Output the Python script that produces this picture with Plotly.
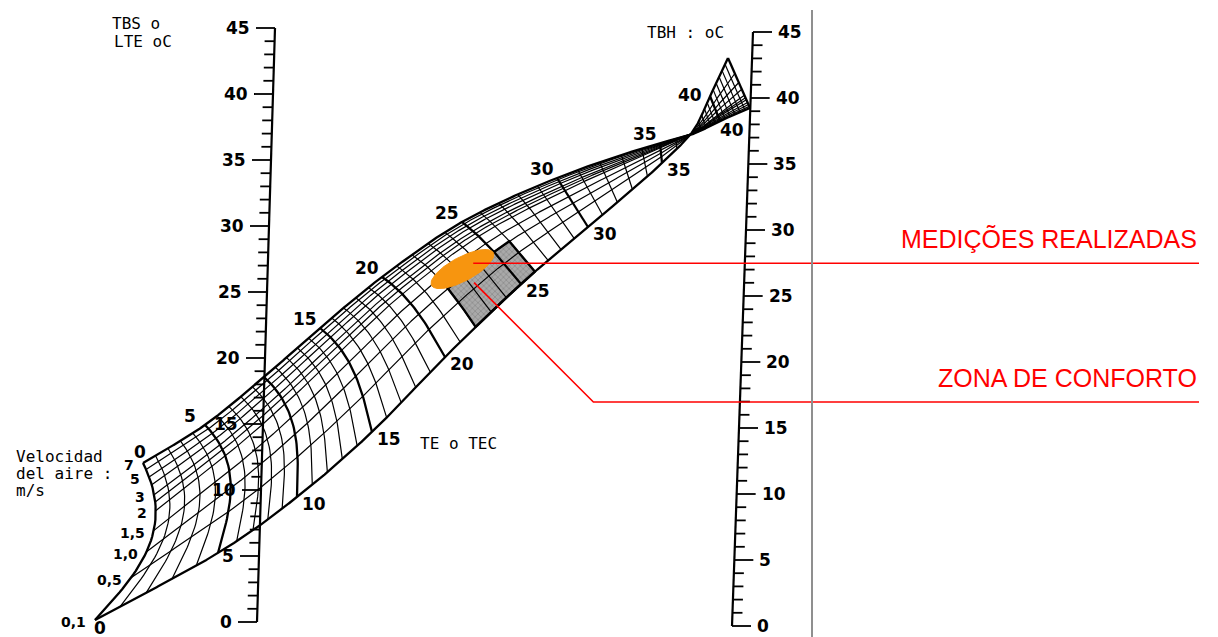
import numpy as np
import plotly.graph_objects as go

# ---------------- chart values ----------------
# effective temperature (TE / TEC, degC) lines of the nomogram
te_steps_main = list(range(0, 37))
te_steps_hot = [37.0, 37.5, 38.0, 38.5, 39.0, 39.5, 40.0, 40.5, 41.0, 41.5, 42.0, 42.5, 43.0]
te_bold = [0, 5, 10, 15, 20, 25, 30, 35, 40, 43]
te_labels_top = [0, 5, 15, 20, 25, 30, 35, 40]
te_labels_bottom = [0, 10, 15, 20, 25, 30, 35, 40]

# air speed curves (m/s)
air_speeds = [0.1, 0.5, 1.0, 1.5, 2.0, 2.5, 3.0, 4.0, 5.0, 6.0, 7.0]
speed_marks = [7, 5, 3, 2, 1.5, 1.0, 0.5, 0.1]
speed_mark_text = ["7", "5", "3", "2", "1,5", "1,0", "0,5", "0,1"]

# dry bulb (left) and wet bulb (right) scales, degC
dry_bulb_ticks = list(range(0, 46))
dry_bulb_labels = [0, 5, 10, 15, 20, 25, 30, 35, 40, 45]
wet_bulb_ticks = list(range(0, 46))
wet_bulb_labels = [0, 5, 10, 15, 20, 25, 30, 35, 40, 45]

# comfort zone and measured conditions
comfort_te = [22, 26]
comfort_speed = [0.1, 1.0]
measured_te = 23.2
measured_speed = 1.2

# ---------------- nomogram geometry (drawing frame, px) ----------------
ANCHOR_TE = np.array([0, 5, 10, 15, 20, 25, 30, 35, 37, 40, 43], float)
STILL_X = np.array([95, 218, 297, 372, 445, 521, 588, 662, 690, 710, 728], float)
STILL_Y = np.array([620, 553, 497, 432, 357, 284, 227, 163, 135, 96, 58], float)
FAST_X = np.array([143, 205, 264, 320, 382, 462, 557, 660, 690, 720, 750], float)
FAST_Y = np.array([463, 425, 377, 328, 277, 222, 178, 143, 135, 121, 108], float)

# relative position of each air speed across the band (0 = 0.1 m/s edge, 1 = 7 m/s edge)
SPEED_SCALE_V = np.array([0.1, 0.5, 1.0, 1.5, 2.0, 3.0, 5.0, 7.0])
SPEED_SCALE_POS = np.array([0.0, 0.31, 0.49, 0.625, 0.745, 0.835, 0.93, 1.0])

LEFT_AXIS = ((257, 622), (275, 28))     # positions of 0 and 45 on the TBS scale
RIGHT_AXIS = ((732, 626), (753, 32))    # positions of 0 and 45 on the TBH scale

INK = "black"
NUM_FONT = dict(family="DejaVu Sans", size=17, color=INK, weight="bold")
SPEED_FONT = dict(family="DejaVu Sans", size=14, color=INK, weight="bold")
SMALL_FONT = dict(family="DejaVu Sans Mono", size=16, color=INK)


def hermite(ts, vals, t):
    ts = np.asarray(ts, float)
    vals = np.asarray(vals, float)
    m = np.gradient(vals, ts)
    t = np.atleast_1d(np.asarray(t, float))
    i = np.clip(np.searchsorted(ts, t, side="right") - 1, 0, len(ts) - 2)
    h = ts[i + 1] - ts[i]
    u = (t - ts[i]) / h
    h00 = 2 * u**3 - 3 * u**2 + 1
    h10 = u**3 - 2 * u**2 + u
    h01 = -2 * u**3 + 3 * u**2
    h11 = u**3 - u**2
    return h00 * vals[i] + h10 * h * m[i] + h01 * vals[i + 1] + h11 * h * m[i + 1]


def speed_pos(v):
    return np.interp(np.log(np.asarray(v, float)), np.log(SPEED_SCALE_V), SPEED_SCALE_POS)


def edge(t, which):
    if which == "still":
        return hermite(ANCHOR_TE, STILL_X, t), hermite(ANCHOR_TE, STILL_Y, t)
    return hermite(ANCHOR_TE, FAST_X, t), hermite(ANCHOR_TE, FAST_Y, t)


def node(t, s):
    t = np.atleast_1d(np.asarray(t, float))
    s = np.asarray(s, float)
    lx, ly = edge(t, "still")
    ux, uy = edge(t, "fast")
    cx, cy = ux - lx, uy - ly
    ln = np.hypot(cx, cy)
    safe = np.where(ln < 1e-6, 1.0, ln)
    nx, ny = cy / safe, -cx / safe
    mx1, my1 = (lx + ux) / 2, (ly + uy) / 2
    lx2, ly2 = edge(t + 0.05, "still")
    ux2, uy2 = edge(t + 0.05, "fast")
    dx, dy = (lx2 + ux2) / 2 - mx1, (ly2 + uy2) / 2 - my1
    sign = np.sign(nx * dx + ny * dy)
    k = 0.32 * np.clip(1 - t / 30.0, 0, None) * ln * sign
    off = 3 * s * (1 - s) ** 2 * 0.5 * k + 3 * s**2 * (1 - s) * k
    return lx + s * cx + off * nx, ly + s * cy + off * ny


def scale_point(axis, val):
    (x0, y0), (x1, y1) = axis
    f = np.asarray(val, float) / 45.0
    return x0 + (x1 - x0) * f, y0 + (y1 - y0) * f


def seg_join(segments):
    xs, ys = [], []
    for sx, sy in segments:
        xs += list(np.ravel(sx)) + [None]
        ys += list(np.ravel(sy)) + [None]
    return xs, ys


fig = go.Figure()

# ---------------- comfort zone (shaded) ----------------
t_lo, t_hi = comfort_te
s_lo, s_hi = float(speed_pos(comfort_speed[0])), float(speed_pos(comfort_speed[1]))
tt = np.linspace(t_lo, t_hi, 40)
ss = np.linspace(s_lo, s_hi, 20)
bx1, by1 = node(tt, np.full_like(tt, s_lo))
bx2, by2 = node(np.full_like(ss, t_hi), ss)
bx3, by3 = node(tt[::-1], np.full_like(tt, s_hi))
bx4, by4 = node(np.full_like(ss, t_lo), ss[::-1])
zx = np.concatenate([bx1, bx2, bx3, bx4])
zy = np.concatenate([by1, by2, by3, by4])
fig.add_trace(go.Scatter(
    x=zx, y=zy, mode="lines", fill="toself",
    fillcolor="#a6a6a6",
    fillpattern=dict(shape="x", size=4, solidity=0.25, fgcolor="#555555", bgcolor="#a9a9a9"),
    line=dict(color=INK, width=2.4), hoverinfo="skip"))

# ---------------- nomogram grid ----------------
s_line = np.linspace(0, 1, 40)
thin, thick = [], []
for t in te_steps_main + te_steps_hot:
    if abs(t - 37) < 1e-9:
        continue
    x, y = node(np.full_like(s_line, t), s_line)
    (thick if t in te_bold else thin).append((x, y))

t_line = np.linspace(0, 43, 700)
for v in air_speeds:
    x, y = node(t_line, np.full_like(t_line, float(speed_pos(v))))
    (thick if v in (air_speeds[0], air_speeds[-1]) else thin).append((x, y))

gx, gy = seg_join(thin)
fig.add_trace(go.Scatter(x=gx, y=gy, mode="lines", line=dict(color=INK, width=1.2), hoverinfo="skip"))
gx, gy = seg_join(thick)
fig.add_trace(go.Scatter(x=gx, y=gy, mode="lines", line=dict(color=INK, width=2.3), hoverinfo="skip"))

# ---------------- TBS / TBH scales ----------------
for axis, ticks, labels, side in ((LEFT_AXIS, dry_bulb_ticks, dry_bulb_labels, -1),
                                  (RIGHT_AXIS, wet_bulb_ticks, wet_bulb_labels, 1)):
    lx, ly = scale_point(axis, [0, 45])
    fig.add_trace(go.Scatter(x=lx, y=ly, mode="lines", line=dict(color=INK, width=2.2), hoverinfo="skip"))
    segs = []
    for val in ticks:
        px, py = scale_point(axis, val)
        length = 19 if val in labels else 10
        segs.append(([px, px + side * length], [py, py]))
    tx, ty = seg_join(segs)
    fig.add_trace(go.Scatter(x=tx, y=ty, mode="lines", line=dict(color=INK, width=1.8), hoverinfo="skip"))
    for val in labels:
        px, py = scale_point(axis, val)
        fig.add_annotation(x=px + side * 23, y=py, text=str(val), showarrow=False,
                           xanchor="right" if side < 0 else "left", yanchor="middle",
                           font=NUM_FONT)

# ---------------- TE labels ----------------
for t in te_labels_top:
    side = "still" if t > 37 else "fast"
    ex, ey = edge(t, side)
    dx, dy = ((-3, -11) if t == 0 else (-20, -1) if t > 37 else (-15, -9))
    fig.add_annotation(x=float(ex[0]) + dx, y=float(ey[0]) + dy, text=str(t), showarrow=False,
                       xanchor="center", yanchor="middle", font=NUM_FONT)
for t in te_labels_bottom:
    side = "fast" if t > 37 else "still"
    ex, ey = edge(t, side)
    dx, dy = ((5, 8) if t == 0 else (12, 9) if t > 37 else (17, 7))
    fig.add_annotation(x=float(ex[0]) + dx, y=float(ey[0]) + dy, text=str(t), showarrow=False,
                       xanchor="center", yanchor="middle", font=NUM_FONT)

# air speed labels along the TE 0 edge
for v, txt in zip(speed_marks, speed_mark_text):
    nx_, ny_ = node([0.0], float(speed_pos(v)))
    fig.add_annotation(x=float(nx_[0]) - 8, y=float(ny_[0]) + 2, text=txt, showarrow=False,
                       xanchor="right", yanchor="middle", font=SPEED_FONT, borderpad=0)

# ---------------- measured conditions (ellipse) ----------------
cx_, cy_ = node([measured_te], float(speed_pos(measured_speed)))
cx_, cy_ = float(cx_[0]), float(cy_[0])
phi = np.radians(28)
th = np.linspace(0, 2 * np.pi, 120)
a_, b_ = 35, 12
ex_ = cx_ + a_ * np.cos(th) * np.cos(phi) - b_ * np.sin(th) * np.sin(phi)
ey_ = cy_ - a_ * np.cos(th) * np.sin(phi) - b_ * np.sin(th) * np.cos(phi)
fig.add_trace(go.Scatter(x=ex_, y=ey_, mode="lines", fill="toself", fillcolor="#F7950F",
                         line=dict(color="#F7950F", width=1), hoverinfo="skip"))

# ---------------- leaders and captions ----------------
RED = "#FF0000"
RIGHT_END = 1199
CAPTION_FONT = dict(family="Liberation Sans", size=25, color=RED)
m_x = cx_ + 0.35 * a_ * np.cos(phi)
m_y = cy_ - 0.35 * a_ * np.sin(phi)
fig.add_trace(go.Scatter(x=[m_x, RIGHT_END], y=[m_y, m_y], mode="lines",
                         line=dict(color=RED, width=1.6), hoverinfo="skip"))
fig.add_annotation(x=RIGHT_END, y=m_y - 8, text="MEDIÇÕES REALIZADAS", showarrow=False,
                   xanchor="right", yanchor="bottom", font=CAPTION_FONT)

zx0, zy0 = node([23.2], float(speed_pos(0.6)))
zx0, zy0 = float(zx0[0]), float(zy0[0])
elbow_y = 402
elbow_x = zx0 + (elbow_y - zy0)
fig.add_trace(go.Scatter(x=[zx0, elbow_x, RIGHT_END], y=[zy0, elbow_y, elbow_y], mode="lines",
                         line=dict(color=RED, width=1.6), hoverinfo="skip"))
fig.add_annotation(x=RIGHT_END, y=elbow_y - 8, text="ZONA DE CONFORTO", showarrow=False,
                   xanchor="right", yanchor="bottom", font=CAPTION_FONT)

# ---------------- axis titles ----------------
fig.add_annotation(x=110, y=23, text="TBS o", showarrow=False, xanchor="left", yanchor="middle", font=SMALL_FONT)
fig.add_annotation(x=112, y=41, text="LTE oC", showarrow=False, xanchor="left", yanchor="middle", font=SMALL_FONT)
fig.add_annotation(x=645, y=32, text="TBH : oC", showarrow=False, xanchor="left", yanchor="middle", font=SMALL_FONT)
fig.add_annotation(x=418, y=443, text="TE o TEC", showarrow=False, xanchor="left", yanchor="middle",
                   font=SMALL_FONT)
for i, line in enumerate(["Velocidad", "del aire :", "m/s"]):
    fig.add_annotation(x=14, y=456 + 17 * i, text=line, showarrow=False, xanchor="left", yanchor="middle",
                       font=SMALL_FONT)

# page divider
fig.add_shape(type="line", x0=812, x1=812, y0=10, y1=637, xref="x", yref="y",
              line=dict(color="#8f8f8f", width=2))

fig.update_layout(
    width=1218, height=637, margin=dict(l=0, r=0, t=0, b=0),
    paper_bgcolor="white", plot_bgcolor="white", showlegend=False,
    xaxis=dict(range=[0, 1218], visible=False, fixedrange=True),
    yaxis=dict(range=[637, 0], visible=False, fixedrange=True),
)
fig.write_html("out.html")
